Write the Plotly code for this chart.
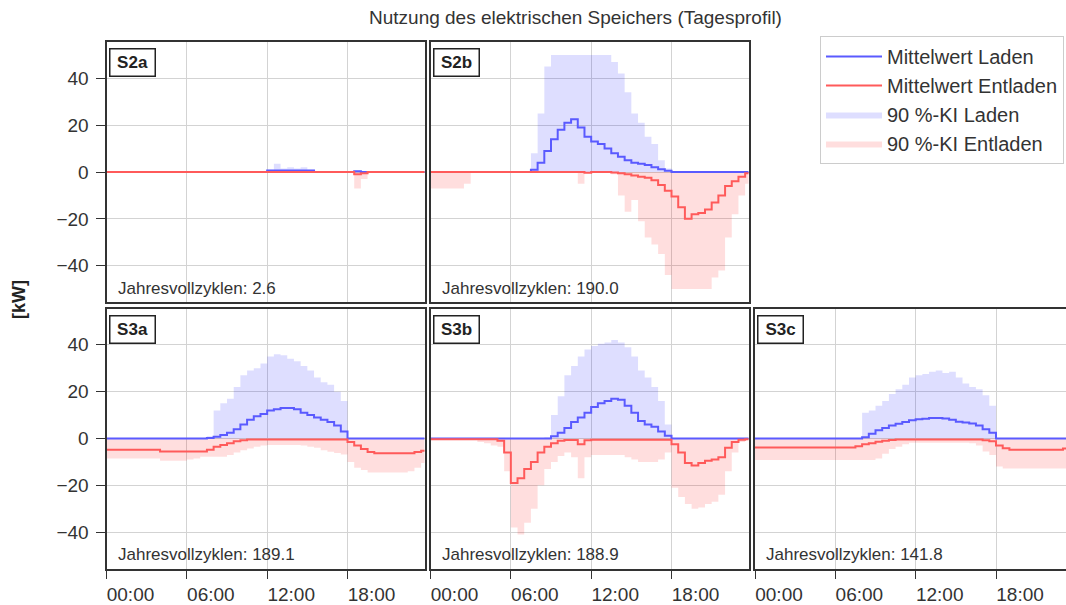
import plotly.graph_objects as go

W, H = 1066, 605
FONT = "Liberation Sans, Arial, sans-serif"

# half-hour steps over the day (hours)
hours = [i * 0.5 for i in range(48)]
tick_hours = [0, 6, 12, 18]
tick_labels = ["00:00", "06:00", "12:00", "18:00"]

names = ["S2a", "S2b", "S3a", "S3b", "S3c"]
cycles = [2.6, 190.0, 189.1, 188.9, 141.8]

# --- S2a ---
s2a_laden = [0] * 24 + [0.6] * 7 + [0] * 5 + [0, 0.3] + [0] * 10
s2a_laden_ki = [0] * 24 + [1, 3.5, 1.5, 2, 1.5, 2, 1, 0, 0, 0, 0, 0] + [0, 0.5] + [0] * 10
s2a_entl = [0] * 36 + [0, -1, -0.5] + [0] * 9
s2a_entl_ki = [0] * 36 + [0, -7, -3] + [0] * 9

# --- S2b ---
s2b_laden = ([0] * 12
             + [0, 0, 0, 1, 4, 9, 14, 18, 21, 22.5, 19, 15]
             + [13, 12, 10, 8, 6.5, 5, 4, 3.5, 3, 2, 1.2, 0.5]
             + [0] * 12)
s2b_laden_ki = ([0] * 12
                + [0, 0, 0, 8, 25, 45, 50, 50, 50, 50, 50, 50]
                + [50, 50, 50, 47, 42, 34, 25, 21, 15, 12, 5, 1.5]
                + [0] * 12)
s2b_entl = ([0] * 12
            + [0] * 11 + [-0.3]
            + [0, 0, 0, -0.2, -0.5, -1, -1.5, -2, -2.5, -3.5, -5.5, -8]
            + [-10.5, -15, -20, -18, -17.5, -16, -13, -10, -6, -4, -2, -0.5])
s2b_entl_ki = ([-7, -7, -7, -7, -7, -5, 0, 0, 0, 0, 0, 0]
               + [0, 0, 0, 0, 0, 0, 0, 0, 0, 0, -5, 0]
               + [0, 0, 0, -1, -10, -17, -12, -21, -28, -31, -35, -44]
               + [-50, -50, -50, -50, -50, -50, -45, -42, -28, -18, -10, -5])

# --- S3a ---
s3a_laden = ([0] * 12
             + [0, 0, 0, 0.2, 0.8, 1.5, 2.5, 4, 6, 8, 9.5, 10.5]
             + [12, 12.5, 13, 13, 12.5, 11, 10, 9, 8, 7, 5.5, 3]
             + [0] * 12)
s3a_laden_ki = ([0] * 12
                + [0, 0, 0, 1, 12, 15, 17, 22, 27, 29, 30, 32]
                + [35, 36, 35.5, 34, 33, 31, 29, 26, 24, 23, 20, 16]
                + [0] * 12)
s3a_entl = ([-4.8] * 8 + [-5.5] * 4
            + [-5.5, -5.5, -5.5, -4.8, -3.5, -2.8, -2, -1.2, -0.8, -0.4, -0.4, -0.4]
            + [-0.4] * 12
            + [-1.5, -3, -4.5, -5.8, -6.3, -6.3, -6.3, -6.3, -6.3, -6.3, -5.8, -5.2])
s3a_entl_ki = ([-8.5] * 8 + [-9.5] * 4
               + [-9, -8.5, -7.8, -7.8, -7.8, -7.8, -7, -6, -5, -4.3, -3.5, -3]
               + [-2.8, -2.8, -2.8, -2.8, -2.8, -3, -3.5, -4, -5, -5.7, -6.2, -6.8]
               + [-10, -12.5, -13.5, -14.5, -14.5, -14.5, -14.5, -14.5, -14.5, -14, -12.5, -10.5])

# --- S3b ---
s3b_laden = ([0] * 12
             + [0, 0, 0, 0, 0, 0, 1, 2.5, 4.5, 7, 9, 11]
             + [13.5, 15, 16, 17, 16.5, 14, 11, 7.5, 6, 5, 3, 1.2]
             + [0] * 12)
s3b_laden_ki = ([0] * 12
                + [0, 0, 0, 0, 0, 0.5, 10, 18, 27, 31, 35, 38]
                + [39.5, 40.5, 41, 42, 41, 39, 35, 29, 26, 22, 16, 6]
                + [0] * 12)
s3b_entl = ([-0.3] * 10 + [-1, -6]
            + [-19, -17, -13, -10, -6, -3.5, -2, -1, -0.6, -0.6, -2.5, -0.8]
            + [-0.5] * 12
            + [-2.5, -6, -10.5, -11.5, -10.5, -9.5, -9, -8, -4, -1.5, -0.5, -0.3])
s3b_entl_ki = ([-0.3] * 7 + [-1.5, -2, -3, -3.5, -14]
               + [-38, -41, -36, -30, -20, -13, -10, -7.5, -6, -8, -17, -8]
               + [-7, -7, -7, -7, -7, -8, -9, -10, -10, -10, -9, -6]
               + [-21, -25, -28, -30, -29.5, -28, -27, -24, -14, -6, -1.5, -0.5])

# --- S3c ---
s3c_laden = ([0] * 12
             + [0, 0, 0, 0, 0.5, 2, 3.5, 4.5, 5.5, 6.3, 7, 7.8]
             + [8.2, 8.4, 8.7, 8.8, 8.5, 8, 7.2, 6.8, 6.4, 5.5, 4, 2.5]
             + [0] * 12)
s3c_laden_ki = ([0] * 12
                + [0, 0, 0, 0, 11, 12, 14, 16, 19, 21, 23, 26]
                + [27, 27.5, 28.5, 29, 28, 28.5, 26, 23.5, 22, 21, 18.5, 14]
                + [0] * 12)
s3c_entl = ([-3.8] * 12
            + [-3.8, -3.8, -3.8, -3.3, -2.5, -2, -1.4, -1, -0.6, -0.4, -0.4, -0.4]
            + [-0.4] * 10 + [-0.8, -1.2]
            + [-3, -4.2] + [-4.8] * 8 + [-4.3, -4])
s3c_entl_ki = ([-9.2] * 12
               + [-9.2] * 6 + [-8.5, -6.5, -4.5, -3.5, -2.5, -1.8]
               + [-1.8] * 8 + [-2, -3, -5.5, -7]
               + [-12] + [-12.8] * 11)

laden = [s2a_laden, s2b_laden, s3a_laden, s3b_laden, s3c_laden]
laden_ki = [s2a_laden_ki, s2b_laden_ki, s3a_laden_ki, s3b_laden_ki, s3c_laden_ki]
entl = [s2a_entl, s2b_entl, s3a_entl, s3b_entl, s3c_entl]
entl_ki = [s2a_entl_ki, s2b_entl_ki, s3a_entl_ki, s3b_entl_ki, s3c_entl_ki]

# panel placement in pixels (row, col)
grid = [(0, 0), (0, 1), (1, 0), (1, 1), (1, 2)]
col_px = [(106.5, 424.5), (430.5, 748.5), (755, 1073)]
row_px = [(42, 302), (308.5, 568.5)]
X_END = 23.75
Y_LIM = 55.5

BLUE = "rgba(90,90,255,1)"
RED = "rgba(255,90,90,1)"
BLUE_FILL = "rgba(0,0,255,0.13)"
RED_FILL = "rgba(255,0,0,0.13)"


def step(vals):
    # close the last step until the end of the day
    return hours + [24.0], list(vals) + [vals[-1]]


fig = go.Figure()
annotations = []

for i, name in enumerate(names):
    n = i + 1
    xa = "x" if n == 1 else f"x{n}"
    ya = "y" if n == 1 else f"y{n}"
    first = i == 0

    xs, y = step(laden_ki[i])
    fig.add_trace(go.Scatter(x=xs, y=y, xaxis=xa, yaxis=ya, mode="lines", line_shape="hv",
                             line=dict(width=0, color=BLUE_FILL), fill="tozeroy",
                             fillcolor=BLUE_FILL, name="90 %-KI Laden", legendrank=3,
                             legendgroup="c", showlegend=first, hoverinfo="skip"))
    xs, y = step(entl_ki[i])
    fig.add_trace(go.Scatter(x=xs, y=y, xaxis=xa, yaxis=ya, mode="lines", line_shape="hv",
                             line=dict(width=0, color=RED_FILL), fill="tozeroy",
                             fillcolor=RED_FILL, name="90 %-KI Entladen", legendrank=4,
                             legendgroup="d", showlegend=first, hoverinfo="skip"))
    xs, y = step(laden[i])
    fig.add_trace(go.Scatter(x=xs, y=y, xaxis=xa, yaxis=ya, mode="lines", line_shape="hv",
                             line=dict(width=2, color=BLUE), name="Mittelwert Laden",
                             legendrank=1, legendgroup="a", showlegend=first))
    xs, y = step(entl[i])
    fig.add_trace(go.Scatter(x=xs, y=y, xaxis=xa, yaxis=ya, mode="lines", line_shape="hv",
                             line=dict(width=2, color=RED), name="Mittelwert Entladen",
                             legendrank=2, legendgroup="b", showlegend=first))

    r, c = grid[i]
    x0, x1 = col_px[c]
    y0, y1 = row_px[r]
    clipped = x1 > W
    xr = X_END * (W - x0) / (x1 - x0) if clipped else X_END
    x1 = min(x1, W)

    fig.update_layout({
        ("xaxis" if n == 1 else f"xaxis{n}"): dict(
            domain=[x0 / W, x1 / W], range=[0, xr], anchor=ya,
            tickvals=tick_hours, ticktext=tick_labels,
            showticklabels=(r == 1), ticks="outside" if r == 1 else "",
            ticklen=8, tickwidth=1.2, tickcolor="#333333", ticklabelshift=24,
            showgrid=True, gridcolor="#d3d3d3", gridwidth=1, zeroline=False,
            showline=True, linecolor="#333333", linewidth=2, mirror=True,
            tickfont=dict(size=19, color="#333333", family=FONT),
        ),
        ("yaxis" if n == 1 else f"yaxis{n}"): dict(
            domain=[1 - y1 / H, 1 - y0 / H], range=[-Y_LIM, Y_LIM], anchor=xa,
            tickvals=[-40, -20, 0, 20, 40],
            showticklabels=(c == 0), ticks="outside" if c == 0 else "",
            ticklen=9, tickwidth=1.2, tickcolor="#333333", ticklabelstandoff=3,
            showgrid=True, gridcolor="#d3d3d3", gridwidth=1, zeroline=False,
            showline=True, linecolor="#333333", linewidth=2, mirror=not clipped,
            tickfont=dict(size=19, color="#333333", family=FONT),
        ),
    })

    dref = "x domain" if n == 1 else f"x{n} domain"
    yref = "y domain" if n == 1 else f"y{n} domain"
    annotations.append(dict(
        text=f"<b>{name}</b>", xref=dref, yref=yref,
        x=26 / (col_px[c][1] - col_px[c][0]), y=1 - 20.5 / 260,
        xanchor="center", yanchor="middle", showarrow=False,
        font=dict(size=17, color="#222222", family=FONT),
        bordercolor="#222222", borderwidth=1.5, borderpad=3, bgcolor="white",
        width=38, height=20,
    ))
    annotations.append(dict(
        text=f"Jahresvollzyklen: {cycles[i]:.1f}", xref=dref, yref=yref,
        x=9 / (col_px[c][1] - col_px[c][0]), y=14 / 260,
        xanchor="left", yanchor="middle", showarrow=False,
        font=dict(size=17, color="#333333", family=FONT),
    ))

annotations.append(dict(
    text="Nutzung des elektrischen Speichers (Tagesprofil)", xref="paper", yref="paper",
    x=575 / W, y=1 - 18 / H, xanchor="center", yanchor="middle", showarrow=False,
    font=dict(size=19, color="#333333", family=FONT),
))
annotations.append(dict(
    text="<b>[kW]</b>", xref="paper", yref="paper", x=19 / W, y=1 - 300 / H,
    xanchor="center", yanchor="middle", textangle=-90, showarrow=False,
    font=dict(size=18, color="#222222", family=FONT),
))

fig.update_layout(
    width=W, height=H, autosize=False,
    margin=dict(l=0, r=0, t=0, b=0),
    paper_bgcolor="white", plot_bgcolor="white",
    font=dict(family=FONT, color="#333333"),
    annotations=annotations,
    legend=dict(
        x=820 / W, y=1 - 36 / H, xanchor="left", yanchor="top",
        bordercolor="#cccccc", borderwidth=1, bgcolor="white",
        font=dict(size=20, color="#333333", family=FONT),
        tracegroupgap=4, traceorder="normal", itemwidth=56,
    ),
)

# drop the page's default body margin so the figure sits at the window's corner
fig.write_html("out.html", config={"displayModeBar": False},
               post_script="document.body.style.margin='0px';")
